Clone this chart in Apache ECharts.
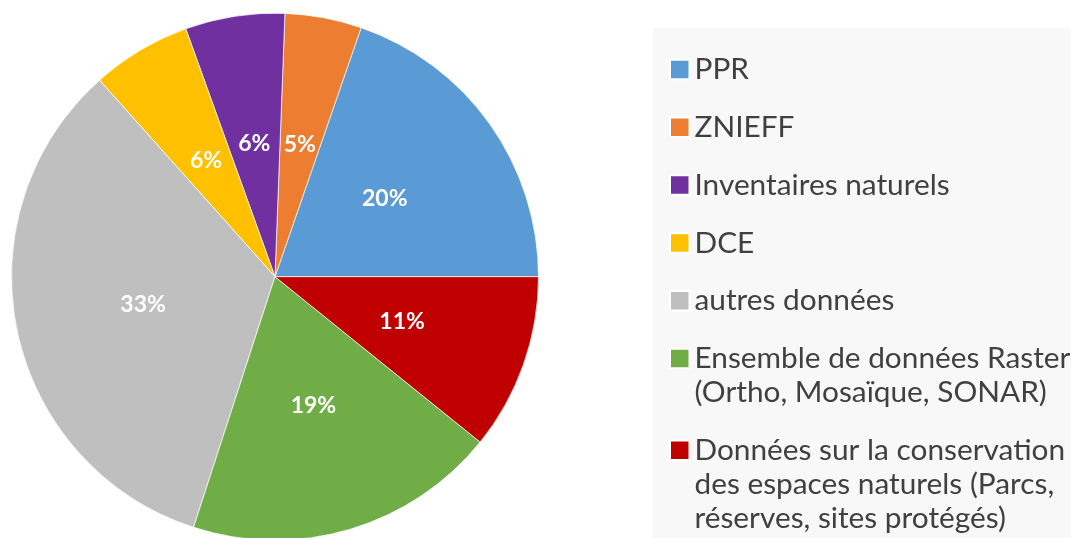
<!DOCTYPE html>
<html>
<head>
<meta charset="utf-8">
<script src="https://cdn.jsdelivr.net/npm/echarts@6/dist/echarts.min.js"></script>
<style>
html,body{margin:0;padding:0;background:#fff;}
#chart{width:1071px;height:538px;}
</style>
</head>
<body>
<div id="chart"></div>
<script>
const categories = [
  'PPR',
  'ZNIEFF',
  'Inventaires naturels',
  'DCE',
  'autres données',
  'Ensemble de données Raster\n(Ortho, Mosaïque, SONAR)',
  'Données sur la conservation\ndes espaces naturels (Parcs,\nréserves, sites protégés)'
];
const shares = [19.7, 4.7, 6.1, 6.1, 33.4, 19.2, 10.8];
const colors = ['#5B9BD5', '#ED7D31', '#7030A0', '#FFC000', '#BFBFBF', '#70AD47', '#C00000'];

const LINE_H = 34;      // legend text line height
const FIRST_C = 69.5;   // centre of first legend icon
const STEP = 57.8;      // distance between consecutive legend entries (single-line)

// one legend per entry so that the icon sits on the first text line:
// (n-1) blank lines are prepended so the centred block puts line 1 on the icon
const legends = [];
let c = FIRST_C;
categories.forEach(function (name) {
  const n = name.split('\n').length;
  legends.push({
    orient: 'vertical',
    left: 669,
    top: c - (2 * n - 1) * LINE_H / 2,
    padding: 0,
    itemWidth: 19.5,
    itemHeight: 19.5,
    icon: 'rect',
    selectedMode: false,
    formatter: function (nm) { return ' \n'.repeat(n - 1) + nm; },
    textStyle: {
      fontFamily: 'Lato',
      fontSize: 29.8,
      lineHeight: LINE_H,
      color: '#404040'
    },
    data: [name]
  });
  c += (n - 1) * LINE_H + STEP;
});

const chart = echarts.init(document.getElementById('chart'), null, {renderer: 'canvas'});
const option = {
  animation: false,
  graphic: [{
    type: 'rect', left: 653, top: 28, silent: true, z: -10,
    shape: {width: 418, height: 520},
    style: {fill: '#F8F8F8'}
  }],
  legend: legends,
  series: [{
    type: 'pie',
    center: [275, 276.7],
    radius: 263.5,
    startAngle: 0,
    clockwise: false,
    percentPrecision: 0,
    silent: true,
    itemStyle: {borderColor: '#ffffff', borderWidth: 0.7},
    label: {
      position: 'inside',
      formatter: '{d}%',
      color: '#ffffff',
      fontFamily: 'Lato',
      fontWeight: 'bold',
      fontSize: 23
    },
    labelLine: {show: false},
    data: categories.map(function (name, i) {
      return {name: name, value: shares[i], itemStyle: {color: colors[i]}};
    })
  }]
};
chart.setOption(option);
</script>
</body>
</html>
